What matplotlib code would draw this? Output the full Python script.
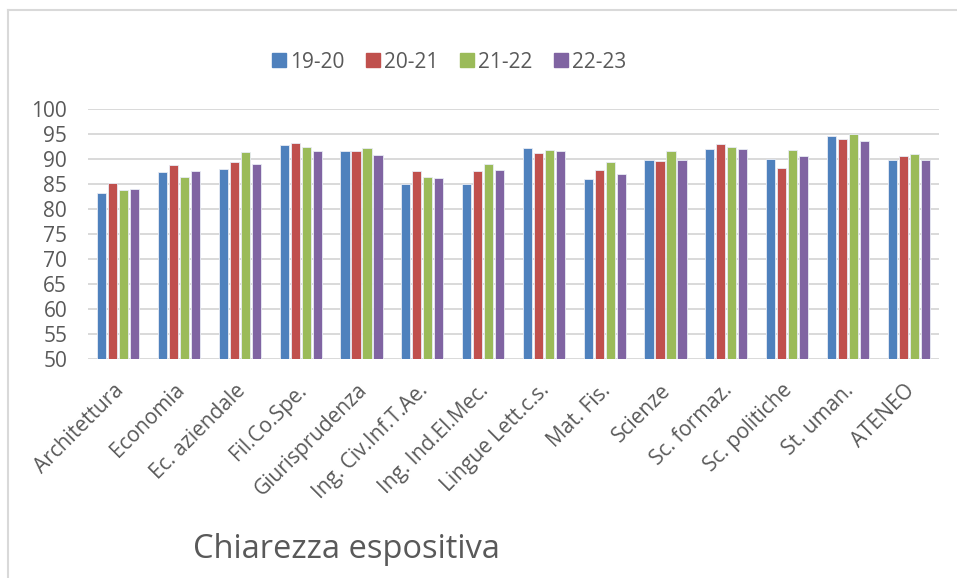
import numpy as np
from matplotlib import pyplot as plt
from matplotlib.lines import Line2D
from matplotlib.transforms import ScaledTranslation

plt.rcParams['font.family'] = ['Open Sans', 'DejaVu Sans']

categories = ["Architettura", "Economia", "Ec. aziendale", "Fil.Co.Spe.", "Giurisprudenza",
              "Ing. Civ.Inf.T.Ae.", "Ing. Ind.El.Mec.", "Lingue Lett.c.s.", "Mat. Fis.",
              "Scienze", "Sc. formaz.", "Sc. politiche", "St. uman.", "ATENEO"]
series = ["19-20", "20-21", "21-22", "22-23"]

v_1920 = [83.2, 87.4, 88.0, 92.8, 91.5, 84.9, 84.9, 92.2, 85.9, 89.7, 91.9, 89.9, 94.5, 89.7]
v_2021 = [85.1, 88.7, 89.4, 93.1, 91.5, 87.5, 87.5, 91.2, 87.8, 89.5, 92.9, 88.1, 93.9, 90.6]
v_2122 = [83.7, 86.3, 91.3, 92.3, 92.1, 86.3, 88.9, 91.7, 89.4, 91.5, 92.3, 91.7, 94.9, 90.9]
v_2223 = [84.0, 87.6, 88.9, 91.5, 90.8, 86.2, 87.8, 91.5, 87.0, 89.7, 92.0, 90.5, 93.5, 89.7]

values = [v_1920, v_2021, v_2122, v_2223]
colors = ["#4f81bd", "#c0504d", "#9bbb59", "#8064a2"]

W, H = 957, 578
fig = plt.figure(figsize=(W / 100, H / 100), dpi=100)
ax = fig.add_axes([88 / W, 1 - 359 / H, (939 - 88) / W, (359 - 109) / H])

x = np.arange(len(categories))
slot = 0.181
for i, (vals, col) in enumerate(zip(values, colors)):
    ax.bar(x + (i - 1.5) * slot, vals, width=0.15, color=col,
           edgecolor="#e8ecf4", linewidth=0.6, label=series[i], zorder=3)

ax.set_ylim(50, 100)
ax.set_xlim(-0.5, len(categories) - 0.5)
ax.set_yticks(range(50, 101, 5))
ax.yaxis.grid(True, color="#d9d9d9", linewidth=1.4, zorder=0)
ax.set_axisbelow(True)
for s in ax.spines.values():
    s.set_visible(False)
ax.tick_params(axis="both", length=0, labelsize=15, labelcolor="#595959")
ax.tick_params(axis="y", pad=15)
ax.set_xticks(x)
ax.set_xticklabels(categories, rotation=45, ha="right", rotation_mode="anchor")
ax.tick_params(axis="x", pad=15)
shift = ScaledTranslation(-5 / 100, 0, fig.dpi_scale_trans)
for lab in ax.get_xticklabels():
    lab.set_transform(lab.get_transform() + shift)

# legend
handles = [Line2D([], [], marker="s", linestyle="none", markersize=10.5,
                  markerfacecolor=c, markeredgecolor=c) for c in colors]
fig.legend(handles, series, loc="center", bbox_to_anchor=(449 / W, 1 - 62 / H),
           ncol=4, frameon=False, fontsize=15, labelcolor="#595959",
           handlelength=0.7, handletextpad=0.2, columnspacing=1.0)

fig.text(346 / W, 1 - 549 / H, "Chiarezza espositiva", ha="center", va="center",
         fontsize=23.5, color="#595959")

# chart frame (partially cropped)
fig.add_artist(Line2D([8 / W, 8 / W], [0, 1 - 10 / H], color="#d9d9d9", linewidth=1.5))
fig.add_artist(Line2D([8 / W, 1], [1 - 10 / H, 1 - 10 / H], color="#d9d9d9", linewidth=1.5))

fig.savefig("out.png", dpi=100)
